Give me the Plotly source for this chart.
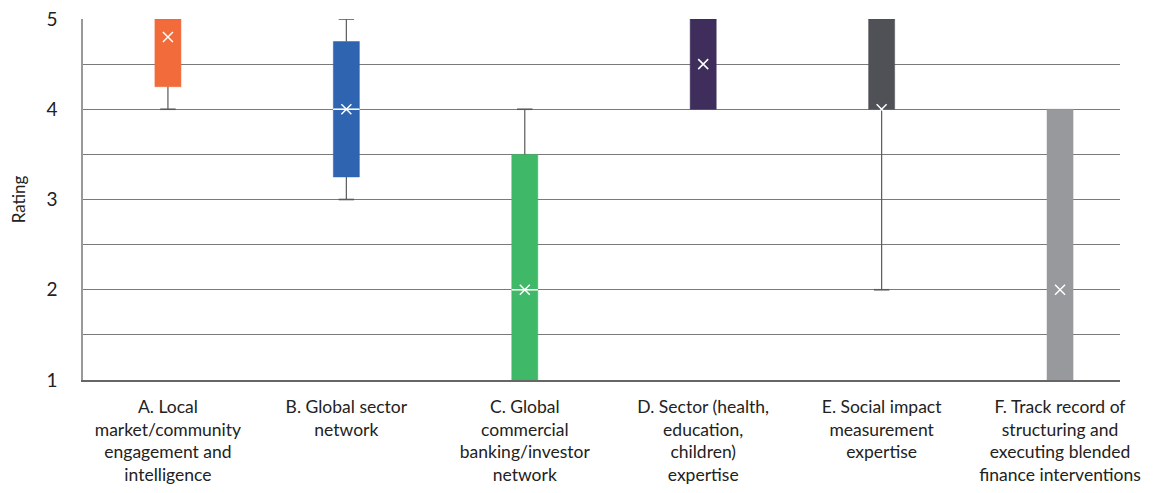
import plotly.graph_objects as go

categories = [
    "A. Local<br>market/community<br>engagement and<br>intelligence",
    "B. Global sector<br>network",
    "C. Global<br>commercial<br>banking/investor<br>network",
    "D. Sector (health,<br>education,<br>children)<br>expertise",
    "E. Social impact<br>measurement<br>expertise",
    "F. Track record of<br>structuring and<br>executing blended<br>finance interventions",
]
q1 = [4.25, 3.25, 1.0, 4.0, 4.0, 1.0]
median = [5.0, 4.0, 2.0, 5.0, 5.0, 4.0]
q3 = [5.0, 4.75, 3.5, 5.0, 5.0, 4.0]
whisker_low = [4.0, 3.0, 1.0, 4.0, 2.0, 1.0]
whisker_high = [5.0, 5.0, 4.0, 5.0, 5.0, 4.0]
mean = [4.8, 4.0, 2.0, 4.5, 4.0, 2.0]
colors = ["#F26B3A", "#2E64B0", "#3FB867", "#3F2E5C", "#4F5157", "#98999D"]

fig = go.Figure()

whisker_color = "#5a5a5a"
# whisker stems and caps (only where the whisker extends beyond the box)
stem_x, stem_y, cap_x, cap_y = [], [], [], []
for i, cat in enumerate(categories):
    if whisker_high[i] > q3[i]:
        stem_x += [cat, cat, None]
        stem_y += [q3[i], whisker_high[i], None]
        cap_x.append(cat)
        cap_y.append(whisker_high[i])
    if whisker_low[i] < q1[i]:
        stem_x += [cat, cat, None]
        stem_y += [q1[i], whisker_low[i], None]
        cap_x.append(cat)
        cap_y.append(whisker_low[i])

fig.add_trace(go.Scatter(
    x=stem_x, y=stem_y, mode="lines", line=dict(color=whisker_color, width=1.2),
    connectgaps=False, showlegend=False, hoverinfo="skip"))
fig.add_trace(go.Scatter(
    x=cap_x, y=cap_y, mode="markers",
    marker=dict(symbol="line-ew", size=11, line=dict(color=whisker_color, width=1.6)),
    showlegend=False, hoverinfo="skip"))

for i, cat in enumerate(categories):
    fig.add_trace(go.Box(
        x=[cat], q1=[q1[i]], median=[median[i]], q3=[q3[i]],
        lowerfence=[q1[i]], upperfence=[q3[i]],
        fillcolor=colors[i], line=dict(color=colors[i], width=0.5),
        whiskerwidth=0, width=0.146, showlegend=False, boxpoints=False))

# white median lines drawn over the boxes (only where inside the box)
for i, cat in enumerate(categories):
    if q1[i] < median[i] < q3[i]:
        fig.add_trace(go.Box(
            x=[cat], q1=[median[i]], median=[median[i]], q3=[median[i]],
            lowerfence=[median[i]], upperfence=[median[i]],
            fillcolor="rgba(0,0,0,0)", line=dict(color="white", width=1),
            whiskerwidth=0, width=0.146, showlegend=False, boxpoints=False))

fig.add_trace(go.Scatter(
    x=categories, y=mean, mode="markers",
    marker=dict(symbol="x-thin-open", size=10, color="white",
                line=dict(color="white", width=1.5)),
    showlegend=False))

fig.update_layout(
    width=1157, height=485,
    margin=dict(l=75, r=45, t=11, b=113),
    plot_bgcolor="white", paper_bgcolor="white",
    boxmode="overlay",
    font=dict(family="Lato, 'Open Sans', sans-serif", size=17, color="#222"),
    xaxis=dict(type="category", categoryorder="array", categoryarray=categories,
               range=[-0.476, 5.336], showgrid=False,
               showline=True, linecolor="#666", linewidth=1.5, ticks="",
               automargin=False, ticklabeloverflow="allow", ticklabelstandoff=10,
               tickfont=dict(size=17.5, color="#222")),
    yaxis=dict(range=[1, 5], tickvals=[1, 2, 3, 4, 5], showgrid=True,
               gridcolor="#7a7a7a", gridwidth=1, zeroline=False,
               showline=True, linecolor="#999", linewidth=1.5,
               automargin=False, ticklabeloverflow="allow",
               minor=dict(dtick=0.5, showgrid=True, gridcolor="#7a7a7a", gridwidth=1),
               title=dict(text="Rating", font=dict(size=17, color="#222"), standoff=22),
               tickfont=dict(size=19, color="#222"), ticks="", ticklabelstandoff=20),
)

fig.write_html("out.html")
